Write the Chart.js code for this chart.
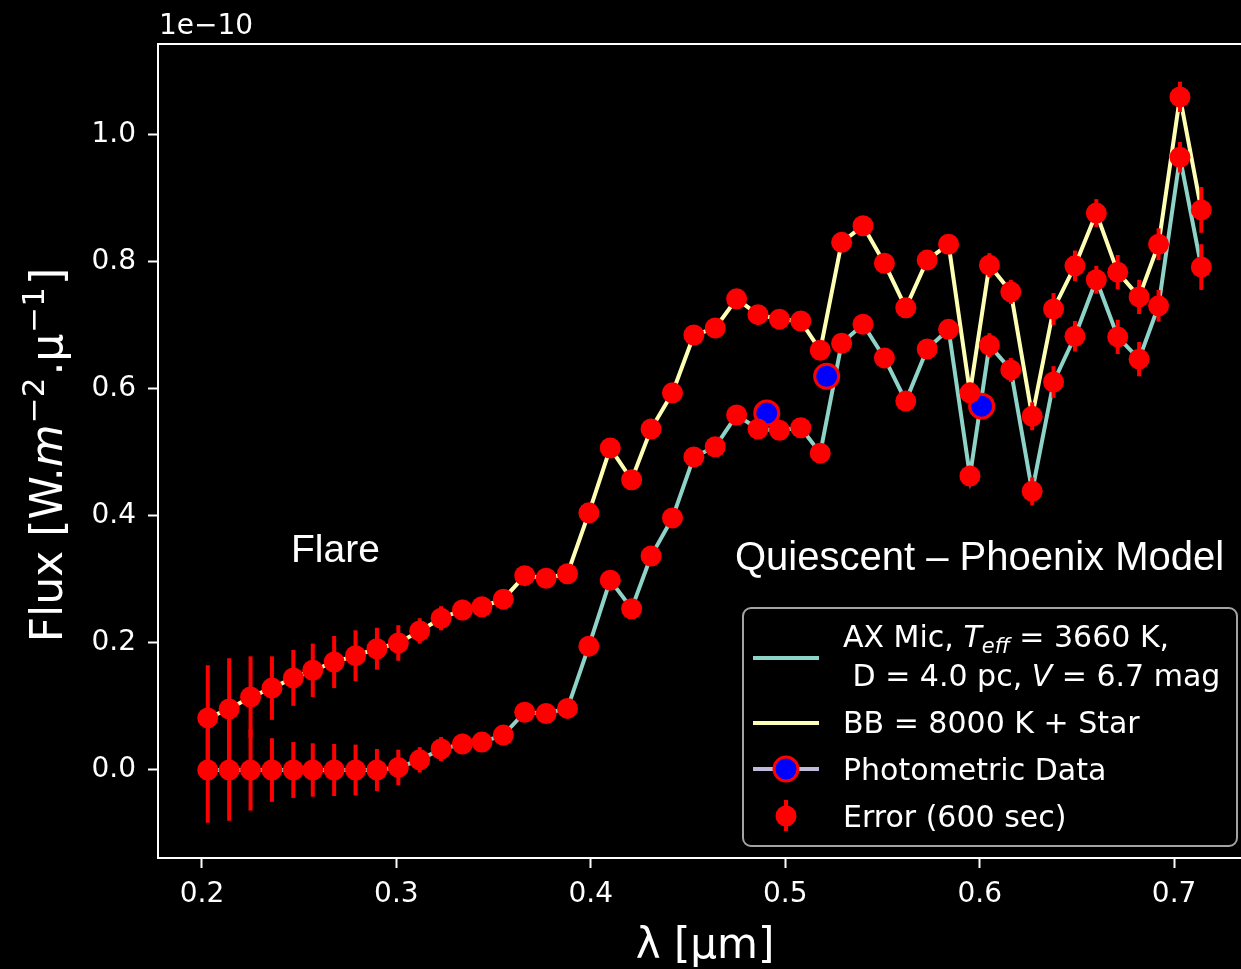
<!DOCTYPE html>
<html><head><meta charset="utf-8">
<script src="https://cdn.jsdelivr.net/npm/chart.js@4.4.1/dist/chart.umd.min.js"></script>
<style>html,body{margin:0;padding:0;background:#000;overflow:hidden}
#wrap{position:relative;width:1241px;height:969px;background:#000}
canvas{display:block}
</style></head><body><div id="wrap"><canvas id="c" width="1241" height="969"></canvas></div>
<script>
// ---- data (flux in units of 1e-10 W m^-2 um^-1) ----
const wavelengths = [0.203,0.214,0.225,0.236,0.247,0.257,0.268,0.279,0.290,0.301,0.312,0.323,0.334,0.344,0.355,0.366,0.377,0.388,0.399,0.410,0.421,0.431,0.442,0.453,0.464,0.475,0.486,0.497,0.508,0.518,0.529,0.540,0.551,0.562,0.573,0.584,0.595,0.605,0.616,0.627,0.638,0.649,0.660,0.671,0.682,0.692,0.703,0.714];
const flareFlux = [0.082,0.096,0.115,0.129,0.145,0.157,0.170,0.180,0.191,0.200,0.219,0.239,0.252,0.257,0.269,0.306,0.302,0.309,0.405,0.507,0.457,0.537,0.594,0.685,0.696,0.742,0.717,0.710,0.707,0.661,0.831,0.857,0.798,0.728,0.803,0.828,0.594,0.795,0.753,0.557,0.726,0.794,0.877,0.784,0.745,0.828,1.060,0.882];
const quiescentFlux = [0,0,0,0,0,0,0,0,0,0.004,0.016,0.033,0.041,0.044,0.055,0.091,0.089,0.097,0.195,0.299,0.254,0.337,0.397,0.493,0.509,0.559,0.537,0.535,0.539,0.499,0.672,0.702,0.649,0.581,0.663,0.694,0.463,0.669,0.630,0.439,0.611,0.683,0.772,0.682,0.647,0.731,0.965,0.792];
const fluxErrors = [0.083,0.080,0.064,0.050,0.044,0.042,0.041,0.040,0.033,0.028,0.020,0.019,0.016,0.014,0.013,0.015,0.015,0.013,0.012,0.012,0.011,0.011,0.011,0.011,0.011,0.011,0.011,0.011,0.011,0.012,0.013,0.013,0.013,0.013,0.014,0.014,0.016,0.019,0.019,0.022,0.025,0.024,0.022,0.027,0.027,0.025,0.024,0.036];
const photWavelengths = [0.4905,0.5213,0.601];
const photFlux = [0.562,0.620,0.573];
const xTicks = [0.2,0.3,0.4,0.5,0.6,0.7];
const yTicks = [0.0,0.2,0.4,0.6,0.8,1.0];

const TEAL = '#8dd3c7', YELLOW = '#feffb3', LAV = '#bebada', RED = '#ff0000', BLUE = '#0000ff';
const DJ = '"DejaVu Sans"';

const pts = (xs, ys) => xs.map((x, i) => ({x, y: ys[i]}));

function runsWidth(ctx, runs){ let w=0; for(const r of runs){ctx.font=r.f; w+=ctx.measureText(r.t).width + (r.sp||0);} return w; }
function drawRuns(ctx, runs, x, y){ let cx=x; for(const r of runs){ ctx.font=r.f; ctx.fillText(r.t, cx, y+(r.dy||0)); cx+=ctx.measureText(r.t).width + (r.sp||0); } }

const errorBarPlugin = {
  id: 'errbars',
  beforeDatasetDraw(chart, args) {
    const ds = chart.data.datasets[args.index];
    if (!ds.errors) return;
    const {ctx, scales:{x, y}} = chart;
    ctx.save();
    ctx.strokeStyle = RED; ctx.lineWidth = 4; ctx.lineCap = 'butt';
    ds.data.forEach((p, i) => {
      const e = ds.errors[i];
      const px = x.getPixelForValue(p.x);
      ctx.beginPath();
      ctx.moveTo(px, y.getPixelForValue(p.y - e));
      ctx.lineTo(px, y.getPixelForValue(p.y + e));
      ctx.stroke();
    });
    ctx.restore();
  }
};

const decorPlugin = {
  id: 'decor',
  beforeDraw(chart){
    const ctx = chart.ctx;
    ctx.save(); ctx.fillStyle = '#000'; ctx.fillRect(0,0,chart.width,chart.height); ctx.restore();
  },
  afterDatasetsDraw(chart){
    const {ctx, chartArea:a} = chart;
    ctx.save();
    ctx.strokeStyle = '#fff'; ctx.lineWidth = 2;
    ctx.beginPath();
    ctx.moveTo(a.left, a.top); ctx.lineTo(a.right, a.top);
    ctx.moveTo(a.left, a.top-1); ctx.lineTo(a.left, a.bottom+1);
    ctx.moveTo(a.left, a.bottom); ctx.lineTo(a.right, a.bottom);
    ctx.stroke();
    ctx.restore();
  },
  afterDraw(chart){
    const ctx = chart.ctx;
    ctx.save();
    ctx.fillStyle = '#fff'; ctx.textBaseline = 'alphabetic'; ctx.textAlign = 'left';
    // offset text
    ctx.font = '28px ' + DJ;
    ctx.fillText('1e\u221210', 159, 34);
    // x label
    ctx.font = '42px ' + DJ;
    ctx.textAlign = 'center';
    ctx.fillText('\u03bb [\u03bcm]', 705, 958);
    ctx.textAlign = 'left';
    // y label
    const yr = [
      {t:'Flux [W.', f:'44px '+DJ},
      {t:'m', f:'italic 44px '+DJ, sp:1},
      {t:'\u22122', f:'31px '+DJ, dy:-18, sp:2},
      {t:'.', f:'44px '+DJ},
      {t:'\u03bc', f:'44px '+DJ, sp:1},
      {t:'\u22121', f:'31px '+DJ, dy:-18, sp:2},
      {t:']', f:'44px '+DJ}
    ];
    ctx.save();
    ctx.translate(62, 455);
    ctx.rotate(-Math.PI/2);
    drawRuns(ctx, yr, -runsWidth(ctx, yr)/2, 0);
    ctx.restore();
    // annotations
    ctx.font = '39px "Liberation Sans", Arial, sans-serif';
    ctx.fillText('Flare', 291, 562);
    ctx.font = '40px "Liberation Sans", Arial, sans-serif';
    ctx.fillText('Quiescent \u2013 Phoenix Model', 735, 570);
    // legend box
    const bx=743, by=608, bw=494, bh=238, r=8;
    ctx.beginPath();
    ctx.moveTo(bx+r, by); ctx.lineTo(bx+bw-r, by); ctx.arcTo(bx+bw, by, bx+bw, by+r, r);
    ctx.lineTo(bx+bw, by+bh-r); ctx.arcTo(bx+bw, by+bh, bx+bw-r, by+bh, r);
    ctx.lineTo(bx+r, by+bh); ctx.arcTo(bx, by+bh, bx, by+bh-r, r);
    ctx.lineTo(bx, by+r); ctx.arcTo(bx, by, bx+r, by, r); ctx.closePath();
    ctx.fillStyle = '#000'; ctx.fill();
    ctx.strokeStyle = '#a3a3a3'; ctx.lineWidth = 2; ctx.stroke();
    // legend handles
    ctx.lineWidth = 4;
    const line = (c, y) => { ctx.strokeStyle=c; ctx.beginPath(); ctx.moveTo(753,y); ctx.lineTo(819,y); ctx.stroke(); };
    line(TEAL, 658); line(YELLOW, 723); line(LAV, 769);
    ctx.beginPath(); ctx.arc(786, 769, 12, 0, Math.PI*2); ctx.fillStyle=BLUE; ctx.fill();
    ctx.strokeStyle=RED; ctx.lineWidth=3; ctx.stroke();
    ctx.strokeStyle=RED; ctx.lineWidth=4; ctx.beginPath(); ctx.moveTo(786,800); ctx.lineTo(786,831); ctx.stroke();
    ctx.beginPath(); ctx.arc(786, 816, 10.5, 0, Math.PI*2); ctx.fillStyle=RED; ctx.fill();
    // legend text
    ctx.fillStyle = '#fff';
    const L = '30px '+DJ, LI = 'italic 30px '+DJ, LS = 'italic 21px '+DJ;
    drawRuns(ctx, [{t:'AX Mic, ',f:L},{t:'T',f:LI},{t:'eff',f:LS,dy:6},{t:' = 3660 K,',f:L}], 843, 647);
    drawRuns(ctx, [{t:' D = 4.0 pc, ',f:L},{t:'V',f:LI},{t:' = 6.7 mag',f:L}], 843, 686);
    drawRuns(ctx, [{t:'BB = 8000 K + Star',f:L}], 843, 733);
    drawRuns(ctx, [{t:'Photometric Data',f:L}], 843, 780);
    drawRuns(ctx, [{t:'Error (600 sec)',f:L}], 843, 827);
    ctx.restore();
  }
};

new Chart(document.getElementById('c'), {
  type: 'scatter',
  data: {
    datasets: [
      { label:'Flare error', data: pts(wavelengths, flareFlux), errors: fluxErrors, order:0,
        showLine:false, pointRadius:10.5, pointBackgroundColor:RED, pointBorderWidth:0, pointBorderColor:RED },
      { label:'Quiescent error', data: pts(wavelengths, quiescentFlux), errors: fluxErrors, order:1,
        showLine:false, pointRadius:10.5, pointBackgroundColor:RED, pointBorderWidth:0, pointBorderColor:RED },
      { label:'Photometric Data', data: pts(photWavelengths, photFlux), order:2,
        showLine:false, pointRadius:12, pointBackgroundColor:BLUE, pointBorderColor:RED, pointBorderWidth:3 },
      { label:'BB = 8000 K + Star', data: pts(wavelengths, flareFlux), order:3,
        showLine:true, pointRadius:0, borderColor:YELLOW, borderWidth:4, tension:0 },
      { label:'AX Mic', data: pts(wavelengths, quiescentFlux), order:4,
        showLine:true, pointRadius:0, borderColor:TEAL, borderWidth:4, tension:0 }
    ]
  },
  options: {
    responsive:false, animation:false, devicePixelRatio:1,
    layout:{ autoPadding:false, padding:{ left:0, right:0, top:44, bottom:0 } },
    plugins:{ legend:{display:false}, tooltip:{enabled:false} },
    scales:{
      x:{ type:'linear', min:0.1774, max:0.7344,
        afterBuildTicks:(s)=>{ s.ticks = xTicks.map(v=>({value:v})); },
        afterFit:(s)=>{ s.height = 111; s.paddingLeft = 0; s.paddingRight = 0; },
        border:{display:false},
        grid:{ display:true, drawOnChartArea:false, drawTicks:true, tickLength:10, tickWidth:2, tickColor:'#fff', color:'#fff' },
        ticks:{ color:'#fff', font:{family:'DejaVu Sans', size:28}, padding:10, maxRotation:0, autoSkip:false,
          callback:(v)=>Number(v).toFixed(1) }
      },
      y:{ type:'linear', min:-0.1386, max:1.1433,
        afterBuildTicks:(s)=>{ s.ticks = yTicks.map(v=>({value:v})); },
        afterFit:(s)=>{ s.width = 158; s.paddingTop = 0; s.paddingBottom = 0; },
        border:{display:false},
        grid:{ display:true, drawOnChartArea:false, drawTicks:true, tickLength:10, tickWidth:2, tickColor:'#fff', color:'#fff' },
        ticks:{ color:'#fff', font:{family:'DejaVu Sans', size:28}, padding:12, autoSkip:false,
          callback:(v)=>Number(v).toFixed(1) }
      }
    }
  },
  plugins:[errorBarPlugin, decorPlugin]
});
</script></body></html>
